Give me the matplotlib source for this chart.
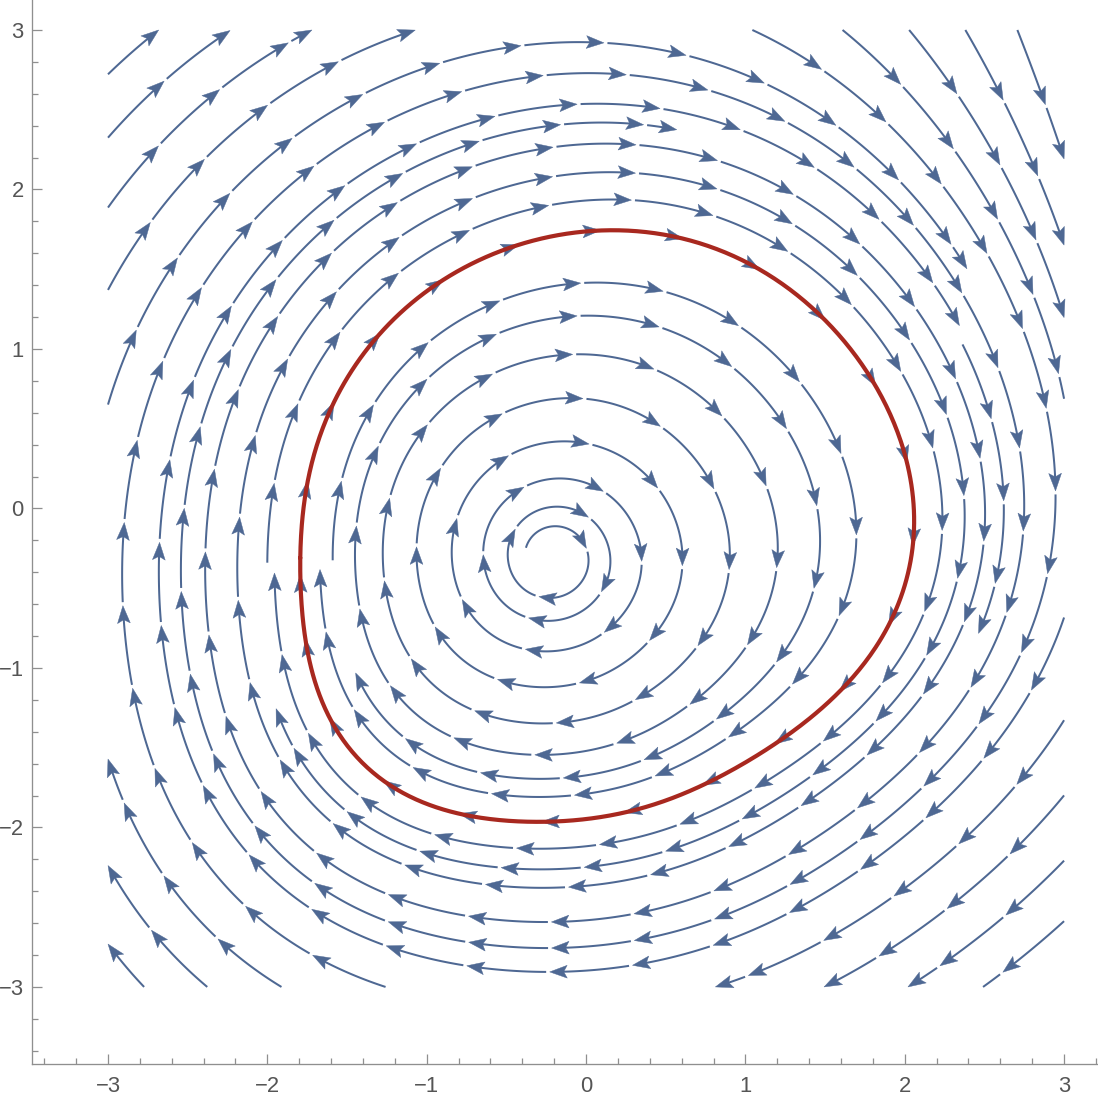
import math
from collections import deque
import numpy as np
import matplotlib
matplotlib.use("Agg")
import matplotlib.pyplot as plt
from matplotlib.collections import LineCollection, PolyCollection
from matplotlib.ticker import MultipleLocator

# ---------------- data ----------------
# limit cycle (red curve), clockwise from the leftmost point
cycle_x = [-1.795, -1.782, -1.764, -1.713, -1.626, -1.481, -1.293, -1.123, -0.935, -0.747,
           -0.540, -0.333, -0.082, 0.169, 0.402, 0.716, 0.967, 1.218, 1.425, 1.638,
           1.801, 1.927, 2.015, 2.052, 2.046, 2.015, 1.927, 1.801, 1.638, 1.425,
           1.262, 1.010, 0.797, 0.508, 0.257, 0.088, -0.038, -0.333, -0.621, -0.872,
           -1.123, -1.337, -1.500, -1.626, -1.713, -1.764, -1.795]
cycle_y = [-0.304, -0.072, 0.097, 0.304, 0.555, 0.850, 1.100, 1.263, 1.414, 1.514,
           1.608, 1.683, 1.727, 1.746, 1.727, 1.665, 1.558, 1.433, 1.245, 1.013,
           0.787, 0.555, 0.348, 0.097, -0.072, -0.429, -0.680, -0.887, -1.094, -1.307,
           -1.433, -1.577, -1.702, -1.828, -1.903, -1.934, -1.953, -1.972, -1.940, -1.890,
           -1.796, -1.658, -1.495, -1.282, -1.031, -0.762, -0.448]

# unstable focus (centre of the spiral)
focus = (-0.21, -0.31)

# streamline crossings
left_cross_x = [-2.91, -2.68, -2.44, -2.31, -2.16, -2.00, -1.59, -1.45, -1.26,
                -1.03, -0.79, -0.58, -0.43]          # along y = -0.31
right_cross_x = [2.32, 2.49, 2.62, 2.76, 2.94]        # along y = -0.10
top_cross_y = [2.92, 2.65, 2.45, 2.26, 2.04, 1.92]    # along x = 0.10
bottom_cross_y = [-2.19, -2.36, -2.50, -2.63, -2.84]  # along x = -0.48

# flow parameters: spiral rate inside, outside, extra pull in the upper right
k_in, k_out, k_tr = 0.088, 0.025, 0.6
tr_center, tr_kappa = 40.0, 4.0

x_ticks = [-3, -2, -1, 0, 1, 2, 3]
y_ticks = [-3, -2, -1, 0, 1, 2, 3]

# ---------------- model of the flow ----------------
fx, fy = focus
cx = np.array(cycle_x); cy = np.array(cycle_y)
th = np.arctan2(cy - fy, cx - fx)
rr = np.hypot(cx - fx, cy - fy)
K = 6


def basis(t):
    t = np.atleast_1d(t)
    cols = [np.ones_like(t)]
    for k in range(1, K + 1):
        cols += [np.cos(k * t), np.sin(k * t)]
    return np.column_stack(cols)


def dbasis(t):
    t = np.atleast_1d(t)
    cols = [np.zeros_like(t)]
    for k in range(1, K + 1):
        cols += [-k * np.sin(k * t), k * np.cos(k * t)]
    return np.column_stack(cols)


coef, *_ = np.linalg.lstsq(basis(th), rr, rcond=None)
Rbar = float(coef[0])

TH_N = 4096
th_tab = -np.pi + 2 * np.pi * np.arange(TH_N) / TH_N
R_tab = list(basis(th_tab) @ coef)
dR_tab = list(dbasis(th_tab) @ coef)
B_tab = list(np.exp(tr_kappa * (np.cos(th_tab - np.radians(tr_center)) - 1)))
TWO_PI = 2 * math.pi


def direction(x, y):
    px = x - fx; py = y - fy
    r = math.hypot(px, py)
    if r < 1e-9:
        return 1.0, 0.0
    i = int((math.atan2(py, px) + math.pi) * TH_N / TWO_PI) % TH_N
    Rt = R_tab[i]; dR = dR_tab[i]
    s = r / Rt
    if s < 1.0:
        h = s ** 1.5
        ta = -h * dR / (Rbar + h * (Rt - Rbar)) + k_in * (1.0 - s)
    else:
        e = s - 1.0
        ta = -dR / r - k_out * e - k_tr * B_tab[i] * e * e
    vx = py / r + ta * px / r
    vy = -px / r + ta * py / r
    n = math.hypot(vx, vy)
    return vx / n, vy / n


# ---------------- evenly spaced streamlines ----------------
BOX = 3.0
CELL = 0.01
G0 = -BOX - 0.35
NG = int(round((2 * BOX + 0.7) / CELL)) + 2
D_SEP, D_TEST = 0.27, 0.105
STEP, LAG, MAXLEN, MINLEN = 0.015, 0.25, 60.0, 0.3
R_STOP2 = 0.15 ** 2


def disk(rad):
    n = int(math.ceil(rad / CELL))
    yy, xx = np.mgrid[-n:n + 1, -n:n + 1]
    return n, (xx * xx + yy * yy) * CELL * CELL <= rad * rad


DK_TEST = disk(D_TEST)
DK_SEP = disk(0.97 * D_SEP)


def stamp(G, x, y, dk):
    n, m = dk
    i = int((y - G0) / CELL); j = int((x - G0) / CELL)
    G[i - n:i + n + 1, j - n:j + n + 1] |= m


def blocked(G, x, y):
    return G[int((y - G0) / CELL), int((x - G0) / CELL)]


def trace(x0, y0, sgn, T, TG):
    xs, ys, arcs = [x0], [y0], [0.0]
    x, y = x0, y0
    arc = 0.0
    k_st = 0
    while arc < MAXLEN:
        d1x, d1y = direction(x, y)
        xm = x + 0.5 * STEP * sgn * d1x; ym = y + 0.5 * STEP * sgn * d1y
        d2x, d2y = direction(xm, ym)
        xn = x + STEP * sgn * d2x; yn = y + STEP * sgn * d2y
        if abs(xn) > BOX or abs(yn) > BOX:
            t = 1.0
            if abs(xn) > BOX:
                t = min(t, (math.copysign(BOX, xn) - x) / (xn - x))
            if abs(yn) > BOX:
                t = min(t, (math.copysign(BOX, yn) - y) / (yn - y))
            xs.append(x + t * (xn - x)); ys.append(y + t * (yn - y))
            arcs.append(arc + t * STEP)
            break
        if (xn - fx) ** 2 + (yn - fy) ** 2 < R_STOP2:
            break
        if blocked(TG, xn, yn) or blocked(T, xn, yn):
            break
        arc += STEP
        xs.append(xn); ys.append(yn); arcs.append(arc)
        while arcs[k_st] < arc - LAG:
            stamp(T, xs[k_st], ys[k_st], DK_TEST)
            k_st += 3
        x, y = xn, yn
    return xs, ys, arcs


def make_line(x0, y0, TG):
    T = np.zeros((NG, NG), bool)
    ax_, ay_, aa = trace(x0, y0, +1, T, TG)
    T2 = np.zeros((NG, NG), bool)
    for k in range(0, len(aa), 3):
        if aa[k] >= LAG:
            stamp(T2, ax_[k], ay_[k], DK_TEST)
    bx_, by_, ba = trace(x0, y0, -1, T2, TG)
    X = np.array(bx_[::-1] + ax_[1:]); Y = np.array(by_[::-1] + ay_[1:])
    return X, Y, ba[-1] + aa[-1]


TG = np.zeros((NG, NG), bool)
SG = np.zeros((NG, NG), bool)
streams = []


def accept(X, Y):
    for k in range(0, len(X), 3):
        stamp(TG, X[k], Y[k], DK_TEST)
        stamp(SG, X[k], Y[k], DK_SEP)
    streams.append((X, Y))


# priority seeds: the cycle itself, then the crossings
seeds = [(fx - R_tab[0], fy)]
seeds += [(v, -0.31) for v in left_cross_x]
seeds += [(v, -0.10) for v in right_cross_x]
seeds += [(0.10, v) for v in top_cross_y]
seeds += [(-0.48, v) for v in bottom_cross_y]
for sx, sy in seeds:
    if blocked(TG, sx, sy):
        continue
    X, Y, L = make_line(sx, sy, TG)
    if L >= MINLEN:
        accept(X, Y)

# fill the remaining space (Jobard-Lefer style)
queue = deque(range(len(streams)))
while queue:
    X, Y = streams[queue.popleft()]
    s = np.concatenate([[0], np.cumsum(np.hypot(np.diff(X), np.diff(Y)))])
    for tgt in np.arange(0.05, s[-1], 0.1):
        idx = min(int(np.searchsorted(s, tgt)), len(X) - 1)
        px, py = X[idx], Y[idx]
        dx, dy = direction(px, py)
        for sgn in (1, -1):
            qx = px - sgn * dy * D_SEP; qy = py + sgn * dx * D_SEP
            if abs(qx) > BOX - 0.01 or abs(qy) > BOX - 0.01:
                continue
            if (qx - fx) ** 2 + (qy - fy) ** 2 < R_STOP2:
                continue
            if blocked(SG, qx, qy) or blocked(TG, qx, qy):
                continue
            NX, NY, L = make_line(qx, qy, TG)
            if L >= MINLEN:
                accept(NX, NY)
                queue.append(len(streams) - 1)

# limit cycle curve of the model, fitted to the read points
tc = np.linspace(np.pi, -np.pi, 721)
rc = basis(tc) @ coef
cyc_X = fx + rc * np.cos(tc)
cyc_Y = fy + rc * np.sin(tc)

# ---------------- chop streamlines into arrowed segments ----------------
L_seg, gap = 0.5, 0.022
head_len, head_w, notch = 0.11, 0.04, 0.8
lines, heads = [], []
for px, py in streams:
    ds = np.hypot(np.diff(px), np.diff(py))
    s = np.concatenate([[0], np.cumsum(ds)])
    total = s[-1]
    start = 0.0
    while start < total - 0.04:
        end = min(start + L_seg, total)
        seglen = end - start
        has_head = seglen > 1.3 * head_len
        line_end = end - 0.6 * head_len if has_head else end
        ss = np.linspace(start, line_end, max(int((line_end - start) / 0.008), 2))
        lines.append(np.column_stack([np.interp(ss, s, px), np.interp(ss, s, py)]))
        if has_head:
            tx, ty = np.interp(end, s, px), np.interp(end, s, py)
            sb = end - 0.06
            bx, by = np.interp(sb, s, px), np.interp(sb, s, py)
            dv = np.array([tx - bx, ty - by]); dv /= np.hypot(*dv)
            nv = np.array([-dv[1], dv[0]])
            tip = np.array([tx, ty])
            heads.append([tip,
                          tip - head_len * dv + head_w * nv,
                          tip - notch * head_len * dv,
                          tip - head_len * dv - head_w * nv])
        start = end + gap

# ---------------- figure ----------------
W, H = 1098, 1097
fig = plt.figure(figsize=(W / 100, H / 100), dpi=100)
ax = fig.add_axes([32 / W, 33.5 / H, 1066 / W, 1063.5 / H])
ax.set_xlim(-3.477, 3.213)
ax.set_ylim(-3.480, 3.188)

blue = '#4e6893'
ax.add_collection(LineCollection(lines, colors=blue, linewidths=1.45,
                                 capstyle='butt', joinstyle='round', zorder=2))
ax.add_collection(PolyCollection(heads, facecolors=blue, edgecolors=blue,
                                 linewidths=0.3, zorder=3))
ax.plot(cyc_X, cyc_Y, color='#a8281f', lw=3.0, solid_joinstyle='round',
        solid_capstyle='round', zorder=4)

for side in ('top', 'right'):
    ax.spines[side].set_visible(False)
for side in ('left', 'bottom'):
    ax.spines[side].set_color('#8f8f8f')
    ax.spines[side].set_linewidth(0.95)

ax.set_xticks(x_ticks)
ax.set_yticks(y_ticks)
ax.set_xticklabels([str(v).replace('-', '\u2212') for v in x_ticks])
ax.set_yticklabels([str(v).replace('-', '\u2212') for v in y_ticks])
ax.xaxis.set_minor_locator(MultipleLocator(0.2))
ax.yaxis.set_minor_locator(MultipleLocator(0.2))
ax.tick_params(which='both', direction='in', color='#8f8f8f', width=0.9,
               labelcolor='#555555', labelsize=15.8)
ax.tick_params(which='major', length=7)
ax.tick_params(which='minor', length=4.2)
ax.tick_params(axis='x', which='major', pad=9)
ax.tick_params(axis='y', which='major', pad=6)
for lab in ax.get_xticklabels() + ax.get_yticklabels():
    lab.set_fontfamily(['Liberation Sans', 'DejaVu Sans'])

fig.savefig('out.png', dpi=100)
